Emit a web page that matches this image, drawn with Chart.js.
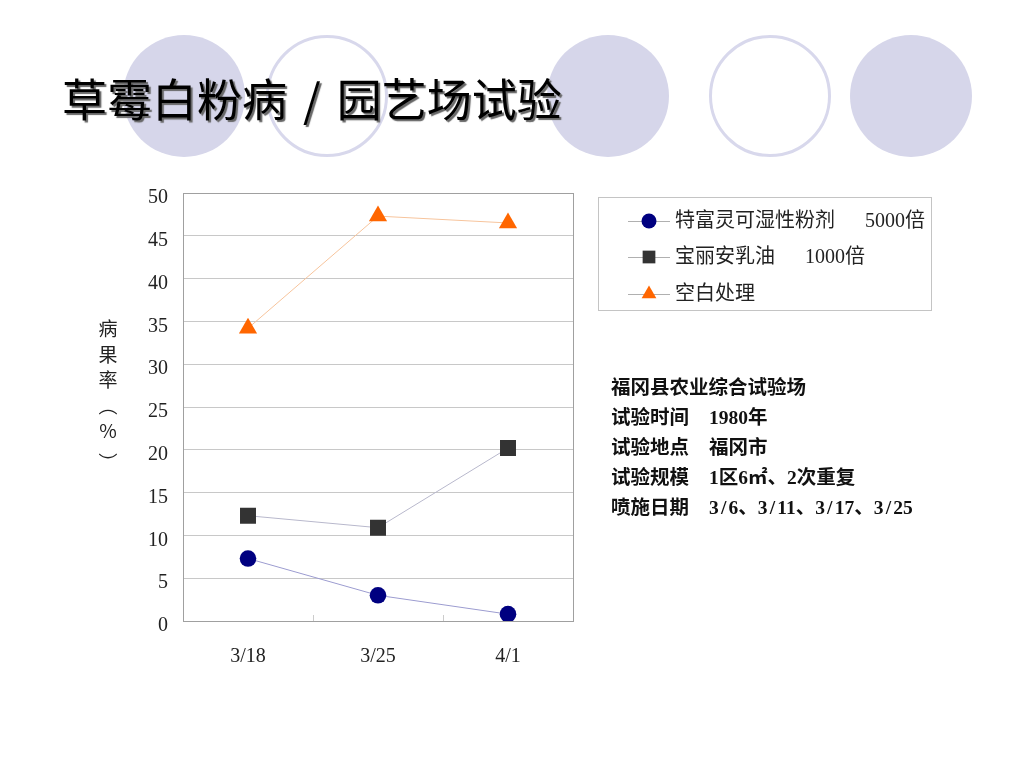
<!DOCTYPE html>
<html><head><meta charset="utf-8">
<script src="https://cdn.jsdelivr.net/npm/chart.js@4/dist/chart.umd.min.js"></script>
<style>
body{margin:0;width:1024px;height:768px;overflow:hidden;background:#fff;position:relative;font-family:'Noto Sans CJK SC',sans-serif;}
.c{position:absolute;top:35px;width:122px;height:122px;border-radius:50%;box-sizing:border-box;}
.f{background:#d6d6ea;}
.o{border:3px solid #d8d8ec;background:#fff;}
#title{position:absolute;left:62px;top:75px;font-size:45px;line-height:45px;white-space:nowrap;color:#000;text-shadow:2px 2px 1px #666;word-spacing:6px;z-index:2;}
#wrap{position:absolute;left:0;top:0;width:1024px;height:768px;z-index:1;}
#ytitle{position:absolute;left:96px;top:315px;width:24px;text-align:center;font-size:19px;line-height:25.5px;color:#222;z-index:3;}
.info{position:absolute;font-weight:bold;font-size:19.5px;line-height:30px;color:#111;white-space:nowrap;z-index:3;font-family:'Liberation Serif','Noto Sans CJK SC',serif;}
.sl{display:inline-block;width:0.5em;text-align:center;}
</style></head>
<body>
<div class="c f" style="left:123px"></div>
<div class="c o" style="left:266px"></div>
<div class="c f" style="left:547px"></div>
<div class="c o" style="left:709px"></div>
<div class="c f" style="left:850px"></div>
<div id="title"></div>
<div id="wrap"><canvas id="cv" width="1024" height="768"></canvas></div>
<div id="ytitle"></div>
<div class="info" id="infoL" style="left:611px;top:373px"></div>
<div class="info" id="infoV" style="left:709px;top:373px"></div>
<script>
const titleText = '草霉白粉病 / 园艺场试验';
const categories = ['3/18', '3/25', '4/1'];
const seriesNames = ['特富灵可湿性粉剂　  5000倍', '宝丽安乳油　  1000倍', '空白处理'];
const valuesA = [7.3, 3.0, 0.8];
const valuesB = [12.3, 10.9, 20.2];
const valuesC = [34.2, 47.3, 46.5];
const yMin = 0, yMax = 50, yStep = 5;
const yTitleChars = ['病', '果', '率', '︵', '%', '︶'];
const infoLabels = ['福冈县农业综合试验场', '试验时间', '试验地点', '试验规模', '喷施日期'];
const infoValues = ['', '1980年', '福冈市', '1区6㎡、2次重复', '3/6、3/11、3/17、3/25'];

document.getElementById('title').textContent = titleText;
document.getElementById('ytitle').innerHTML = yTitleChars.map((c, i) =>
  '<div' + (i === yTitleChars.length - 1 ? ' style="position:relative;top:6px"' : '') + '>' + c + '</div>').join('');
document.getElementById('infoL').innerHTML = infoLabels.map(t => '<div>' + t + '</div>').join('');
document.getElementById('infoV').innerHTML = infoValues.map(t =>
  '<div>' + (t ? t.split('/').join('<span class="sl">/</span>') : '&nbsp;') + '</div>').join('');

const serifFont = "'Liberation Serif','Noto Sans CJK SC',serif";

const legendMarkers = [
  {style: 'circle', r: 7.5},
  {style: 'rect', r: 9},
  {style: 'triangle', r: 8.5}
];

const framePlugin = {
  id: 'frame',
  afterDraw(chart) {
    const ctx = chart.ctx, a = chart.chartArea;
    ctx.save();
    const xs = chart.scales.x;
    ctx.strokeStyle = '#cccccc';
    ctx.lineWidth = 1;
    for (let i = 1; i < categories.length; i++) {
      const px = Math.round((xs.getPixelForValue(i - 1) + xs.getPixelForValue(i)) / 2) + 0.5;
      ctx.beginPath(); ctx.moveTo(px, a.bottom); ctx.lineTo(px, a.bottom - 6); ctx.stroke();
    }
    ctx.strokeStyle = '#a0a0a0';
    ctx.strokeRect(Math.round(a.left) + 0.5, Math.round(a.top) + 0.5, Math.round(a.right - a.left), Math.round(a.bottom - a.top));
    // legend
    const lx = 598, ly = 197, lw = 333, lh = 113;
    ctx.strokeStyle = '#c4c4c4';
    ctx.strokeRect(lx + 0.5, ly + 0.5, lw, lh);
    const rows = [221, 257, 294];
    chart.data.datasets.forEach((ds, i) => {
      const y = rows[i];
      ctx.strokeStyle = '#b0b0b0';
      ctx.lineWidth = 1;
      ctx.beginPath(); ctx.moveTo(628, y + 0.5); ctx.lineTo(670, y + 0.5); ctx.stroke();
      ctx.fillStyle = ds.pointBackgroundColor;
      Chart.helpers.drawPoint(ctx, {pointStyle: legendMarkers[i].style, radius: legendMarkers[i].r, rotation: 0, borderWidth: 0}, 649, y);
      ctx.fillStyle = '#222';
      ctx.font = "20px " + serifFont;
      ctx.textBaseline = 'middle';
      ctx.textAlign = 'left';
      ctx.fillText(ds.label, 675, y + 1);
    });
    ctx.restore();
  }
};

new Chart(document.getElementById('cv'), {
  type: 'line',
  data: {
    labels: categories,
    datasets: [
      {label: seriesNames[0], data: valuesA, borderColor: '#9c9cd0', borderWidth: 1, pointStyle: 'circle', pointRadius: 8.3, pointHoverRadius: 8.3, pointBackgroundColor: '#000080', pointBorderWidth: 0, tension: 0},
      {label: seriesNames[1], data: valuesB, borderColor: '#b8b8cc', borderWidth: 1, pointStyle: 'rect', pointRadius: 11.3, pointHoverRadius: 11.3, pointBackgroundColor: '#333333', pointBorderWidth: 0, tension: 0},
      {label: seriesNames[2], data: valuesC, borderColor: '#f7c49c', borderWidth: 1, pointStyle: 'triangle', pointRadius: 10.5, pointHoverRadius: 10.5, pointBackgroundColor: '#ff6600', pointBorderWidth: 0, tension: 0}
    ]
  },
  options: {
    responsive: false,
    animation: false,
    events: [],
    layout: {padding: {left: 123, top: 193, right: 451, bottom: 87}},
    plugins: {legend: {display: false}, tooltip: {enabled: false}},
    scales: {
      x: {
        offset: true,
        grid: {display: false, drawTicks: false},
        border: {display: false},
        ticks: {padding: 24, color: '#222', font: {family: serifFont, size: 20}},
        afterFit(s) { s.height = 60; }
      },
      y: {
        min: yMin, max: yMax,
        grid: {color: '#c8c8c8', drawTicks: false},
        border: {display: false},
        ticks: {stepSize: yStep, padding: 15, labelOffset: 5, color: '#222', font: {family: serifFont, size: 20}},
        afterFit(s) { s.width = 60; }
      }
    }
  },
  plugins: [framePlugin]
});
</script>
</body></html>
